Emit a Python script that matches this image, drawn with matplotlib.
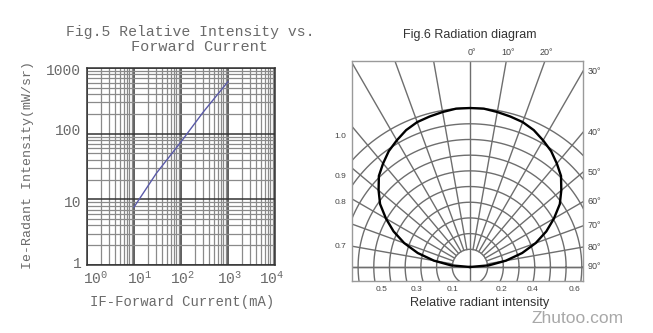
import numpy as np
import matplotlib
matplotlib.use("Agg")
import matplotlib.pyplot as plt
import matplotlib.transforms as mtransforms
from matplotlib.ticker import LogLocator, NullFormatter

# -----------------------------
# Data
# -----------------------------
# Fig.5: relative intensity vs forward current
if_ma = [10, 30, 100, 300, 1000]
ie_mw_sr = [7.6, 25, 75, 215, 620]

x_ticks = [1, 10, 100, 1000, 10000]
x_ticklabels = [r"$10^{0}$", r"$10^{1}$", r"$10^{2}$", r"$10^{3}$", r"$10^{4}$"]
y_ticks = [1, 10, 100, 1000]
y_ticklabels = ["1", "10", "100", "1000"]

# Fig.6: radiation diagram, relative intensity every 5 deg (0..90, symmetric)
angle_deg = [0, 5, 10, 15, 20, 25, 30, 35, 40, 45, 50, 55, 60, 65, 70, 75, 80, 85, 90]
rel_int = [1.00, 1.00, 0.99, 0.98, 0.97, 0.95, 0.92, 0.89, 0.85, 0.81,
           0.75, 0.69, 0.61, 0.53, 0.44, 0.34, 0.23, 0.12, 0.00]

angle_labels = [0, 10, 20, 30, 40, 50, 60, 70, 80, 90]
left_labels = ["1.0", "0.9", "0.8", "0.7"]
bottom_labels = ["0.5", "0.3", "0.1", "0.2", "0.4", "0.6"]

plt.rcParams["font.family"] = ["Liberation Mono", "DejaVu Sans"]
plt.rcParams["mathtext.fontset"] = "custom"
plt.rcParams["mathtext.rm"] = "Liberation Mono"
plt.rcParams["mathtext.it"] = "Liberation Mono"
grey_txt = "#6a6a6a"

fig = plt.figure(figsize=(6.53, 3.33), dpi=100)

# -----------------------------
# Fig.5 (log-log grid)
# -----------------------------
ax1 = fig.add_axes([0.1332, 0.2042, 0.2879, 0.5916])
ax1.set_xscale("log")
ax1.set_yscale("log")
ax1.set_xlim(1, 1e4)
ax1.set_ylim(1, 1000)

ax1.plot(if_ma, ie_mw_sr, color="#5a5aa8", lw=1.0, zorder=3)

ax1.xaxis.set_minor_locator(LogLocator(base=10, subs=np.arange(2, 10), numticks=20))
ax1.yaxis.set_minor_locator(LogLocator(base=10, subs=np.arange(2, 10), numticks=20))
ax1.xaxis.set_minor_formatter(NullFormatter())
ax1.yaxis.set_minor_formatter(NullFormatter())
ax1.set_xticks(x_ticks)
ax1.set_xticklabels(x_ticklabels)
ax1.set_yticks(y_ticks)
ax1.set_yticklabels(y_ticklabels)

ax1.grid(which="major", color="#333333", lw=1.1)
ax1.grid(which="minor", color="#8a8a8a", lw=0.9)
ax1.tick_params(which="both", length=0, labelsize=10.5, labelcolor=grey_txt)
ax1.tick_params(axis="x", pad=4)
ax1.tick_params(axis="y", pad=4)
for s in ax1.spines.values():
    s.set_color("#333333")
    s.set_linewidth(1.1)

# small nudges, like the hand-lettered original
x_shift = [9, 6, 2, 2, -3]  # px
for lab, dx in zip(ax1.get_xticklabels(), x_shift):
    lab.set_transform(lab.get_transform() +
                      mtransforms.ScaledTranslation(dx / 100, 0, fig.dpi_scale_trans))
y_shift = [3, -2, 4, -2]  # px
for lab, dy in zip(ax1.get_yticklabels(), y_shift):
    lab.set_transform(lab.get_transform() +
                      mtransforms.ScaledTranslation(0, dy / 100, fig.dpi_scale_trans))

fig.text(0.101, 0.904, "Fig.5 Relative Intensity vs.", fontsize=10.6,
         color=grey_txt, va="center", ha="left")
fig.text(0.306, 0.859, "Forward Current", fontsize=11,
         color=grey_txt, va="center", ha="center")
fig.text(0.043, 0.505, "Ie-Radant Intensity(mW/sr)", rotation=90, fontsize=9.5,
         color=grey_txt, va="center", ha="center")
fig.text(0.279, 0.093, "IF-Forward Current(mA)", fontsize=10,
         color=grey_txt, va="center", ha="center")

# -----------------------------
# Fig.6 (radiation diagram)
# -----------------------------
ax2 = fig.add_axes([0.5390, 0.1562, 0.3538, 0.6607])
xmin, xmax, ymin, ymax = -0.742, 0.711, -0.088, 1.296
ax2.set_xlim(xmin, xmax)
ax2.set_ylim(ymin, ymax)
ax2.set_xticks([])
ax2.set_yticks([])
for s in ax2.spines.values():
    s.set_color("#9a9a9a")
    s.set_linewidth(1.0)

grid_c = "#6e6e6e"
t = np.linspace(0, 2 * np.pi, 361)
arc_r = np.arange(1, 11) * 0.0987 + 0.0126
for r in arc_r:
    ax2.plot(r * np.cos(t), r * np.sin(t), color=grid_c, lw=1.0, zorder=1)

for a in range(10, 91, 10):
    th = np.radians(a)
    for sgn in (-1, 1):
        ax2.plot([sgn * arc_r[0] * np.sin(th), sgn * 2 * np.sin(th)],
                 [arc_r[0] * np.cos(th), 2 * np.cos(th)],
                 color=grid_c, lw=1.0, zorder=1)
ax2.axvline(0, color=grid_c, lw=1.0, zorder=1)
ax2.axhline(0, color=grid_c, lw=1.0, zorder=1)

# pattern curve, both halves
th = np.radians(angle_deg)
r = np.array(rel_int)
xs = np.concatenate([-(r * np.sin(th))[::-1], (r * np.sin(th))[1:]])
ys = np.concatenate([(r * np.cos(th))[::-1], (r * np.cos(th))[1:]])
ax2.plot(xs, ys, color="black", lw=1.7, zorder=3)

# angle labels
for a in angle_labels:
    tha = np.radians(a)
    if a <= 20:
        ax2.text(ymax * np.tan(tha) + 0.01, ymax + 0.025, f"{a}°", fontsize=6.5,
                 family="Liberation Sans", color="#444444", ha="center",
                 va="bottom", clip_on=False)
    else:
        ax2.text(xmax + 0.03, xmax / np.tan(tha) if a < 90 else 0.0, f"{a}°",
                 fontsize=6.5, family="Liberation Sans", color="#444444",
                 ha="left", va="center", clip_on=False)

left_y = [0.818, 0.572, 0.403, 0.126]
for lab, yy in zip(left_labels, left_y):
    ax2.text(xmin - 0.035, yy, lab, fontsize=6, family="Liberation Sans",
             color="#444444", ha="right", va="center", clip_on=False)

bottom_x = [-0.553, -0.333, -0.107, 0.201, 0.396, 0.66]
for lab, xx in zip(bottom_labels, bottom_x):
    ax2.text(xx, ymin - 0.03, lab, fontsize=6, family="Liberation Sans",
             color="#444444", ha="center", va="top", clip_on=False)

fig.text(0.72, 0.895, "Fig.6 Radiation diagram", fontsize=9,
         family="Liberation Sans", color="#333333", ha="center", va="center")
fig.text(0.735, 0.09, "Relative radiant intensity", fontsize=9.2,
         family="Liberation Sans", color="#333333", ha="center", va="center")
fig.text(0.885, 0.045, "Zhutoo.com", fontsize=12.5, family="Liberation Sans",
         color="#a8a8a8", ha="center", va="center")

fig.savefig("out.png", dpi=100, facecolor="white")
